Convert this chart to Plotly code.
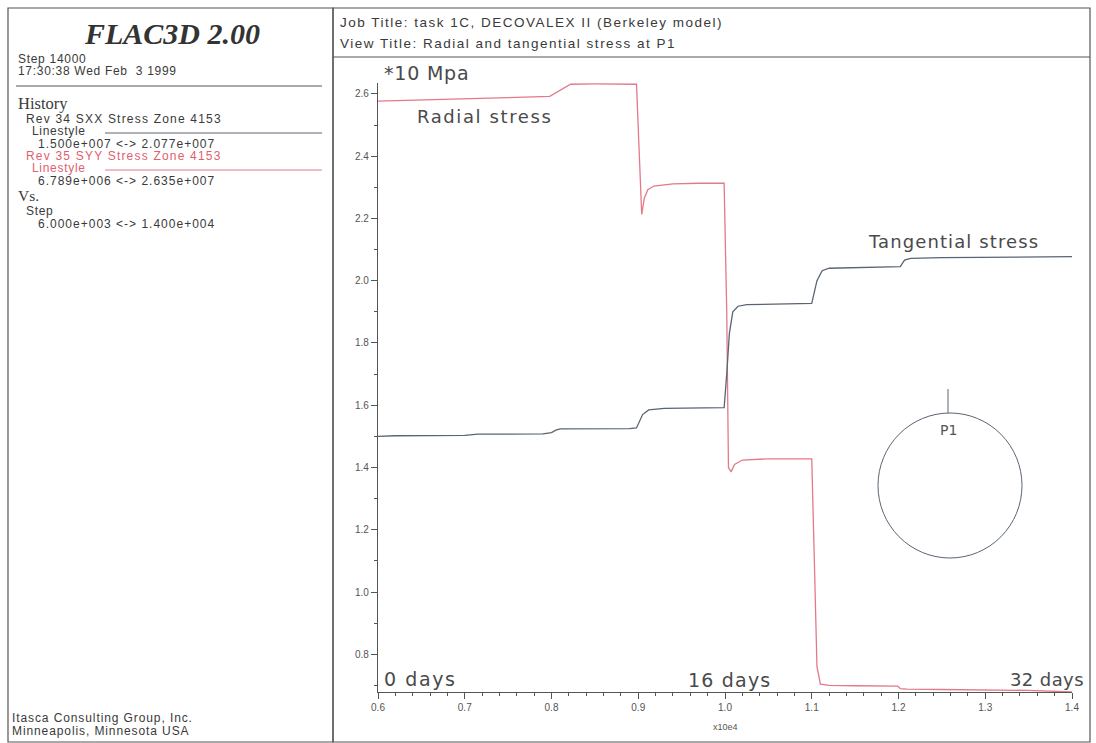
import plotly.graph_objects as go

# History data (step in units of 1e4, stress in units of 10 MPa)
radial_step = [0.600, 0.650, 0.700, 0.750, 0.798, 0.806, 0.814, 0.822, 0.850, 0.880, 0.898,
               0.901, 0.904, 0.907, 0.911, 0.918, 0.940, 0.970, 0.999,
               1.002, 1.004, 1.007, 1.011, 1.020, 1.050, 1.080, 1.100,
               1.103, 1.106, 1.110, 1.120, 1.150, 1.199,
               1.202, 1.210, 1.250, 1.300, 1.350, 1.400]
radial_stress = [2.577, 2.580, 2.584, 2.588, 2.592, 2.605, 2.620, 2.631, 2.632, 2.632, 2.631,
                 2.420, 2.213, 2.265, 2.292, 2.304, 2.311, 2.313, 2.313,
                 1.900, 1.400, 1.386, 1.410, 1.424, 1.428, 1.428, 1.428,
                 1.100, 0.760, 0.704, 0.700, 0.699, 0.698,
                 0.690, 0.688, 0.687, 0.686, 0.684, 0.6789]

tangential_step = [0.600, 0.620, 0.700, 0.715, 0.790, 0.800, 0.805, 0.810, 0.890, 0.898,
                   0.905, 0.912, 0.930, 0.999,
                   1.002, 1.005, 1.009, 1.015, 1.025, 1.060, 1.100,
                   1.106, 1.112, 1.120, 1.150, 1.202,
                   1.207, 1.214, 1.250, 1.300, 1.400]
tangential_stress = [1.500, 1.502, 1.503, 1.507, 1.508, 1.512, 1.520, 1.524, 1.525, 1.527,
                     1.570, 1.585, 1.590, 1.592,
                     1.700, 1.830, 1.900, 1.918, 1.923, 1.925, 1.927,
                     2.000, 2.032, 2.040, 2.042, 2.045,
                     2.066, 2.072, 2.074, 2.075, 2.077]

x_ticks = [0.6, 0.7, 0.8, 0.9, 1.0, 1.1, 1.2, 1.3, 1.4]
x_tick_labels = ["0.6", "0.7", "0.8", "0.9", "1.0", "1.1", "1.2", "1.3", "1.4"]
y_ticks = [0.8, 1.0, 1.2, 1.4, 1.6, 1.8, 2.0, 2.2, 2.4, 2.6]
y_tick_labels = ["0.8", "1.0", "1.2", "1.4", "1.6", "1.8", "2.0", "2.2", "2.4", "2.6"]

W, H = 1096, 743
ML, MR, MT, MB = 378, 24, 83, 51
PW, PH = W - ML - MR, H - MT - MB


def px(x):
    return (x - ML) / PW


def py(y):
    return (H - MB - y) / PH


RED = "#e27a8a"
RED_TEXT = "#e0606f"
GREY = "#5a6572"
INK = "#3a3a3a"
LABEL = "#4a4a4a"
FRAME = "#555555"
SANS = "Liberation Sans, Arial, sans-serif"
SERIF = "Liberation Serif, Times New Roman, serif"
GOTHIC = "DejaVu Sans, sans-serif"

fig = go.Figure()
fig.add_trace(go.Scatter(x=radial_step, y=radial_stress, mode="lines",
                         line=dict(color=RED, width=1.3), hoverinfo="skip"))
fig.add_trace(go.Scatter(x=tangential_step, y=tangential_stress, mode="lines",
                         line=dict(color=GREY, width=1.3), hoverinfo="skip"))

shapes = []


def seg(x0, y0, x1, y1, color=FRAME, width=1.2):
    shapes.append(dict(type="line", xref="paper", yref="paper",
                       x0=px(x0), y0=py(y0), x1=px(x1), y1=py(y1),
                       line=dict(color=color, width=width)))


# panel frames
shapes.append(dict(type="rect", xref="paper", yref="paper",
                   x0=px(8), y0=py(742), x1=px(333), y1=py(8),
                   line=dict(color=FRAME, width=1.2)))
shapes.append(dict(type="rect", xref="paper", yref="paper",
                   x0=px(333), y0=py(742), x1=px(1090), y1=py(8),
                   line=dict(color=FRAME, width=1.2)))
seg(333, 57, 1090, 57)
seg(16, 86, 322, 86, width=1)
seg(105, 133, 322, 133, color=GREY, width=1)
seg(105, 170, 322, 170, color=RED, width=1)

# location sketch: opening with monitoring point P1
shapes.append(dict(type="circle", xref="paper", yref="paper",
                   x0=px(878), y0=py(558), x1=px(1022), y1=py(413),
                   line=dict(color=GREY, width=1)))
seg(948, 389, 948, 413, color=GREY, width=1)

annotations = []


def text(s, x, y, size, color=INK, family=SANS, anchor="left", spacing=0.0):
    if spacing:
        s = '<span style="letter-spacing:%.1fpx">%s</span>' % (spacing, s)
    annotations.append(dict(text=s, x=px(x), y=py(y), xref="paper", yref="paper",
                            xanchor=anchor, yanchor="middle", showarrow=False,
                            font=dict(size=size, color=color, family=family)))


text("<b><i>FLAC3D 2.00</i></b>", 172, 34, 30, color="#333", family=SERIF, anchor="center")
text("Step 14000", 16, 59, 12, spacing=0.7)
text("17:30:38 Wed Feb  3 1999", 16, 71, 12, spacing=0.7)
text("History", 16, 104, 16.5, family=SERIF)
text("Rev 34 SXX Stress Zone 4153", 24, 119, 12, spacing=1.2)
text("Linestyle", 30, 131, 12, spacing=0.7)
text("1.500e+007 <-> 2.077e+007", 36, 143.5, 12, spacing=1.0)
text("Rev 35 SYY Stress Zone 4153", 24, 156, 12, color=RED_TEXT, spacing=1.2)
text("Linestyle", 30, 168, 12, color=RED_TEXT, spacing=0.7)
text("6.789e+006 <-> 2.635e+007", 36, 180.5, 12, spacing=1.0)
text("Vs.", 16, 195, 15.5, family=SERIF)
text("Step", 24, 211, 12, spacing=0.7)
text("6.000e+003 <-> 1.400e+004", 36, 223.5, 12, spacing=1.0)
text("Itasca Consulting Group, Inc.", 10, 718, 12, spacing=0.9)
text("Minneapolis, Minnesota USA", 10, 730.5, 12, spacing=0.9)

text("Job Title: task 1C, DECOVALEX II (Berkeley model)", 338, 22, 13.5, spacing=1.5)
text("View Title: Radial and tangential stress at P1", 338, 44, 13.5, spacing=1.5)

text("*10 Mpa", 382, 73, 19, color=LABEL, family=GOTHIC, spacing=0.8)
text("Radial stress", 415, 116, 18, color=LABEL, family=GOTHIC, spacing=1.6)
text("Tangential stress", 866, 241, 18, color=LABEL, family=GOTHIC, spacing=1.1)
text("0 days", 382, 679, 19, color=LABEL, family=GOTHIC, spacing=1.6)
text("16 days", 686, 680, 19, color=LABEL, family=GOTHIC, spacing=1.2)
text("32 days", 1086, 679, 18, color=LABEL, family=GOTHIC, anchor="right", spacing=0.4)
text("P1", 948, 430, 14, color="#555", family=GOTHIC, anchor="center")
text("x10e4", 725, 727, 9, color="#555", anchor="center")

fig.update_layout(
    width=W, height=H,
    margin=dict(l=ML, r=MR, t=MT, b=MB, pad=0),
    paper_bgcolor="white", plot_bgcolor="white",
    showlegend=False,
    shapes=shapes, annotations=annotations,
    xaxis=dict(range=[0.6, 1.4], tickvals=x_ticks, ticktext=x_tick_labels,
               showgrid=False, zeroline=False, showline=True, linecolor=FRAME,
               linewidth=1.2, ticks="outside", ticklen=6, tickcolor=FRAME,
               tickfont=dict(size=10, color="#555", family=SANS),
               minor=dict(dtick=0.02, ticks="outside", ticklen=3, tickcolor=FRAME,
                          showgrid=False)),
    yaxis=dict(range=[0.6789, 2.635], tickvals=y_ticks, ticktext=y_tick_labels,
               showgrid=False, zeroline=False, showline=True, linecolor=FRAME,
               linewidth=1.2, ticks="outside", ticklen=6, tickcolor=FRAME,
               tickfont=dict(size=10, color="#555", family=SANS),
               minor=dict(dtick=0.1, ticks="outside", ticklen=3, tickcolor=FRAME,
                          showgrid=False)),
)

fig.write_html("out.html")
